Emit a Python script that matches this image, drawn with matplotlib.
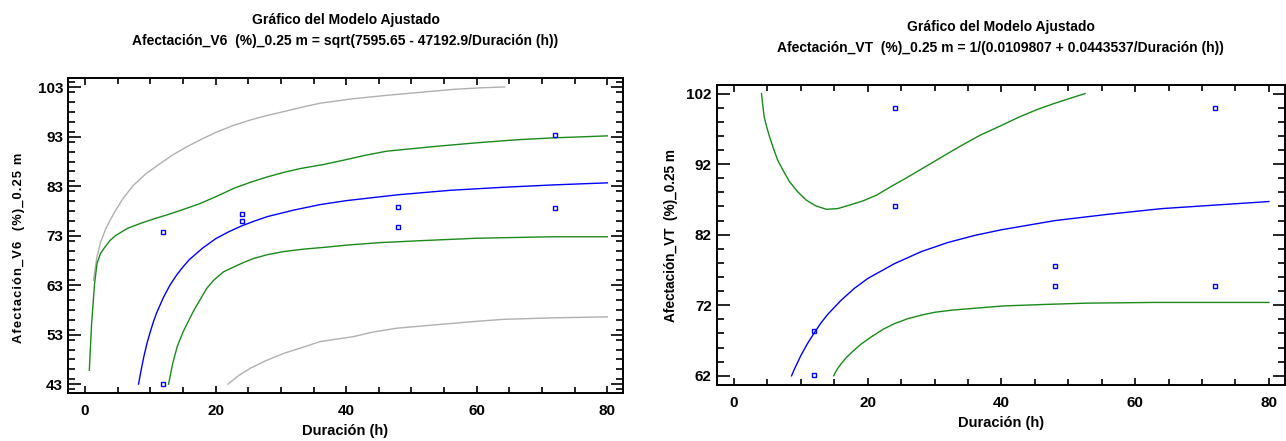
import matplotlib.pyplot as plt
import numpy as np
from matplotlib.ticker import MultipleLocator

plt.rcParams['font.family'] = ['Liberation Sans', 'DejaVu Sans']

# ---- left panel: Afectación_V6 ----
v6_obs_x = [12, 12, 24, 24, 48, 48, 72, 72]
v6_obs_y = [73.7, 43.0, 77.5, 76.0, 78.8, 74.7, 93.4, 78.6]

v6_fit_x = [8.2, 8.6, 9, 9.5, 10, 10.5, 11, 12, 13, 14, 15, 16, 18, 20, 22, 24, 26, 28,
            32, 36, 40, 48, 56, 64, 72, 80]
v6_fit_y = [43.0, 45.9, 48.5, 51.3, 53.6, 55.7, 57.5, 60.5, 63.0, 65.0, 66.7, 68.2, 70.5,
            72.4, 73.8, 75.0, 76.0, 76.9, 78.2, 79.3, 80.1, 81.3, 82.2, 82.8, 83.3, 83.7]

v6_up_x = [0.66, 1.0, 1.47, 1.84, 2.4, 3.1, 3.8, 4.64, 6.5, 8.5, 10.5, 12.5, 15, 17.6,
           20.2, 22.8, 25.3, 27.9, 30.4, 33, 36.5, 40, 43, 46.2, 50, 53.9, 60, 66, 71.7,
           76, 80]
v6_up_y = [45.8, 55.0, 63.4, 67.4, 69.5, 70.8, 72.0, 73.0, 74.5, 75.5, 76.4, 77.2, 78.3,
           79.5, 81.0, 82.6, 83.8, 84.9, 85.8, 86.6, 87.4, 88.4, 89.3, 90.1, 90.6, 91.1,
           91.8, 92.4, 92.8, 93.0, 93.2]

v6_lo_x = [12.8, 13.4, 14.1, 15, 15.9, 16.7, 17.6, 18.6, 19.7, 21.2, 22.8, 24.3, 25.8,
           28, 30.4, 33.5, 37, 40, 45, 51.3, 60, 71.7, 80]
v6_lo_y = [43.0, 47.0, 50.5, 53.5, 55.9, 58.0, 60.0, 62.3, 64.0, 65.7, 66.7, 67.6, 68.4,
           69.2, 69.8, 70.3, 70.7, 71.1, 71.6, 72.0, 72.5, 72.8, 72.8]

v6_pu_x = [1.3, 1.8, 2.34, 3.2, 4.4, 5.8, 7.4, 9.3, 11.5, 13.5, 15.6, 17.8, 20.2, 22.7,
           25.3, 27.8, 30.4, 33.2, 36, 41, 46.2, 51.3, 56.4, 60.3, 64.3]
v6_pu_y = [64.0, 68.5, 71.5, 74.5, 77.5, 80.5, 83.2, 85.5, 87.6, 89.4, 91.0, 92.5, 94.0,
           95.3, 96.4, 97.3, 98.1, 99.0, 99.8, 100.7, 101.4, 102.0, 102.6, 102.9, 103.1]

v6_pl_x = [21.9, 23.5, 25.3, 27.8, 30.4, 33.5, 36, 41.1, 44, 47.7, 52, 56.4, 60, 64.1,
           71.7, 80]
v6_pl_y = [43.0, 44.7, 46.2, 47.8, 49.2, 50.5, 51.6, 52.6, 53.5, 54.3, 54.8, 55.3, 55.7,
           56.1, 56.4, 56.6]

# ---- right panel: Afectación_VT ----
vt_obs_x = [12, 12, 24, 24, 48, 48, 72, 72]
vt_obs_y = [68.3, 62.1, 100.0, 86.1, 77.5, 74.7, 100.0, 74.7]

vt_fit_x = [8.6, 9, 10, 11, 12, 13, 14, 16, 18, 20, 24, 28, 32, 36, 40, 48, 56, 64, 72, 80]
vt_fit_y = [62.0, 62.9, 64.9, 66.6, 68.1, 69.5, 70.7, 72.7, 74.4, 75.8, 77.9, 79.6, 80.9,
            81.9, 82.7, 84.0, 84.9, 85.7, 86.2, 86.7]

vt_up_x = [4.1, 4.3, 4.5, 4.9, 5.3, 5.9, 6.5, 7.4, 8.3, 9.5, 10.8, 12.2, 13.8, 15.5, 17.3,
           19.3, 21.3, 23.8, 25.5, 27.3, 29.8, 32.3, 34.5, 36.8, 39.8, 42.7, 45.5, 48.2,
           50.5, 52.5]
vt_up_y = [102.0, 100.3, 98.7, 97.2, 95.9, 94.2, 92.6, 91.0, 89.5, 88.1, 86.9, 86.1, 85.6,
           85.7, 86.2, 86.8, 87.6, 89.0, 89.9, 90.9, 92.3, 93.7, 94.9, 96.1, 97.4, 98.7,
           99.8, 100.7, 101.4, 102.0]

vt_lo_x = [14.9, 15.4, 16.0, 16.8, 17.8, 19.0, 20.5, 22.3, 24.0, 26, 28, 30, 32.5, 35,
           40.2, 46, 52.7, 62.7, 80]
vt_lo_y = [62.0, 62.9, 63.7, 64.6, 65.5, 66.5, 67.5, 68.6, 69.4, 70.1, 70.6, 71.0, 71.3,
           71.5, 71.9, 72.1, 72.3, 72.4, 72.4]

blue = '#0000ff'
green = '#1a8a1a'
gray = '#b0b0b0'

fig = plt.figure(figsize=(12.86, 4.41), dpi=100)
ax1 = fig.add_axes([0.0529, 0.1088, 0.4316, 0.7143])
ax2 = fig.add_axes([0.5573, 0.127, 0.4419, 0.680])


def style(ax, yticks, ylim, ylabel, ylabel_size, title):
    ax.set_xlim(-2.6, 82.4)
    ax.set_ylim(*ylim)
    ax.set_xticks([0, 20, 40, 60, 80])
    ax.set_yticks(yticks)
    ax.xaxis.set_minor_locator(MultipleLocator(5))
    ax.yaxis.set_minor_locator(MultipleLocator(2))
    ax.tick_params(which='both', direction='in', top=True, right=True, width=1.2)
    ax.tick_params(axis='x', which='major', length=5, pad=8)
    ax.tick_params(axis='x', which='minor', length=4)
    ax.tick_params(axis='y', which='major', length=9)
    ax.tick_params(axis='y', which='minor', length=5)
    ax.tick_params(labelsize=11)
    for lab in ax.get_xticklabels() + ax.get_yticklabels():
        lab.set_fontweight('bold')
    for s in ax.spines.values():
        s.set_linewidth(1.4)
    ax.set_xlabel('Duración (h)', fontsize=10.5, fontweight='bold', labelpad=4)
    ax.set_ylabel(ylabel, fontsize=ylabel_size, fontweight='bold', labelpad=6)
    ax.set_title(title, fontsize=10, fontweight='bold', pad=24, linespacing=1.6)


ax1.plot(v6_pu_x, v6_pu_y, color=gray, lw=1)
ax1.plot(v6_pl_x, v6_pl_y, color=gray, lw=1)
ax1.plot(v6_up_x, v6_up_y, color=green, lw=1)
ax1.plot(v6_lo_x, v6_lo_y, color=green, lw=1)
ax1.plot(v6_fit_x, v6_fit_y, color=blue, lw=1)
ax1.plot(v6_obs_x, v6_obs_y, 's', ms=3.5, mfc='none', mec=blue, mew=1)
spaced = '\u200a'.join('Afectación_V6  (%)_0.25 m')
style(ax1, [43, 53, 63, 73, 83, 93, 103], (41.2, 104.9), spaced, 9.3,
      'Gráfico del Modelo Ajustado\n'
      'Afectación_V6  (%)_0.25 m = sqrt(7595.65 - 47192.9/Duración (h))')
ax1.yaxis.set_label_coords(-0.078, 0.46)

ax2.plot(vt_up_x, vt_up_y, color=green, lw=1)
ax2.plot(vt_lo_x, vt_lo_y, color=green, lw=1)
ax2.plot(vt_fit_x, vt_fit_y, color=blue, lw=1)
ax2.plot(vt_obs_x, vt_obs_y, 's', ms=3.5, mfc='none', mec=blue, mew=1)
style(ax2, [62, 72, 82, 92, 102], (60.7, 103.2), 'Afectación_VT  (%)_0.25 m', 9.8,
      'Gráfico del Modelo Ajustado\n'
      'Afectación_VT  (%)_0.25 m = 1/(0.0109807 + 0.0443537/Duración (h))')

fig.savefig('out.png', dpi=100)
